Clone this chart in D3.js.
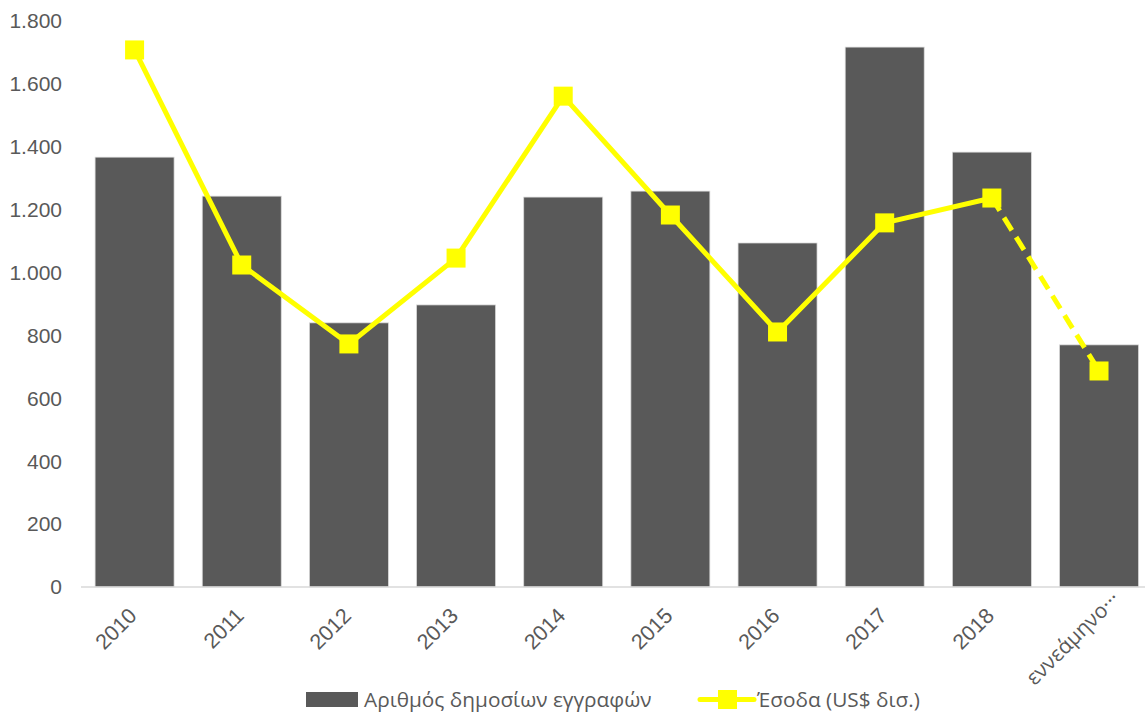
<!DOCTYPE html>
<html><head><meta charset="utf-8">
<script src="https://cdn.jsdelivr.net/npm/d3@7"></script>
<style>body{margin:0;background:#fff;}svg{display:block;font-family:"Liberation Sans",Arial,sans-serif;}</style>
</head><body>
<svg id="c" width="1145" height="713"></svg>
<script>
const categories = ["2010","2011","2012","2013","2014","2015","2016","2017","2018","εννεάμηνο 2019"];
const registrations = [1367,1243,840,897,1240,1259,1094,1717,1383,770];
const revenue = [1708,1024,773,1046,1561,1183,811,1158,1237,687];
const yTicks = [0,200,400,600,800,1000,1200,1400,1600,1800];
const barName = "Αριθμός δημοσίων εγγραφών";
const lineName = "Έσοδα (US$ δισ.)";

const svg = d3.select("#c");
const x = d3.scaleBand().domain(categories).range([81, 1152.6]).paddingInner(0.263).paddingOuter(0.1315);
const y = d3.scaleLinear().domain([0,1800]).range([587,21]);
const txt = "#595959";
const fmt = d => d3.format(",")(d).replace(/,/g,".");

// y axis labels
svg.append("g").selectAll("text").data(yTicks).join("text")
  .attr("x",62).attr("y",d=>y(d)).attr("dy","0.35em").attr("text-anchor","end")
  .attr("font-size",21).attr("fill",txt).text(fmt);

// bars
svg.append("g").selectAll("rect").data(categories).join("rect")
  .attr("x",d=>x(d)).attr("width",x.bandwidth())
  .attr("y",(d,i)=>y(registrations[i])).attr("height",(d,i)=>y(0)-y(registrations[i]))
  .attr("fill","#595959").attr("stroke","#d9d9d9").attr("stroke-width",0.75);

// baseline
svg.append("line").attr("x1",81).attr("x2",1145).attr("y1",y(0)).attr("y2",y(0))
  .attr("stroke","#d9d9d9").attr("stroke-width",1.5);

// x labels
const isLong = d => d.length>6;
svg.append("g").selectAll("text").data(categories).join("text")
  .attr("transform",d=>{
    const cx = x(d)+x.bandwidth()/2;
    return isLong(d) ? `translate(${cx+22},${600}) rotate(-45)` : `translate(${cx+3.5},${617}) rotate(-45)`;
  })
  .attr("text-anchor","end")
  .attr("font-family",d=>isLong(d)?"'Open Sans',sans-serif":null)
  .attr("font-size",d=>isLong(d)?21:21.5).attr("fill",txt)
  .text(d=>isLong(d) ? "εννεάμηνο···" : d);

// line
const pts = categories.map((c,i)=>[x(c)+x.bandwidth()/2, y(revenue[i])]);
const line = d3.line();
svg.append("path").attr("d",line(pts.slice(0,9))).attr("fill","none")
  .attr("stroke","#ffff00").attr("stroke-width",5).attr("stroke-linejoin","round");
svg.append("path").attr("d",line(pts.slice(8))).attr("fill","none")
  .attr("stroke","#ffff00").attr("stroke-width",5).attr("stroke-dasharray","15,8");
svg.append("g").selectAll("rect").data(pts).join("rect")
  .attr("x",d=>d[0]-9.5).attr("y",d=>d[1]-9.5).attr("width",19).attr("height",19)
  .attr("fill","#ffff00");

// legend
const ly = 699.5;
const lg = svg.append("g").attr("font-family","'Open Sans',sans-serif");
lg.append("rect").attr("x",306).attr("y",ly-7.5).attr("width",52).attr("height",15).attr("fill","#595959");
const t1 = lg.append("text").attr("x",364).attr("y",ly).attr("dy","0.35em").attr("font-size",20).attr("fill",txt).text(barName);
const w1 = t1.node().getComputedTextLength();
const fs = Math.min(20.8, 20*299/w1);
t1.attr("font-size",fs);
lg.append("line").attr("x1",700).attr("x2",754).attr("y1",ly).attr("y2",ly).attr("stroke","#ffff00").attr("stroke-width",5).attr("stroke-linecap","round");
lg.append("rect").attr("x",718).attr("y",ly-9.5).attr("width",19).attr("height",19).attr("fill","#ffff00");
lg.append("text").attr("x",757).attr("y",ly).attr("dy","0.35em").attr("font-size",fs).attr("fill",txt).text(lineName);
</script>
</body></html>
